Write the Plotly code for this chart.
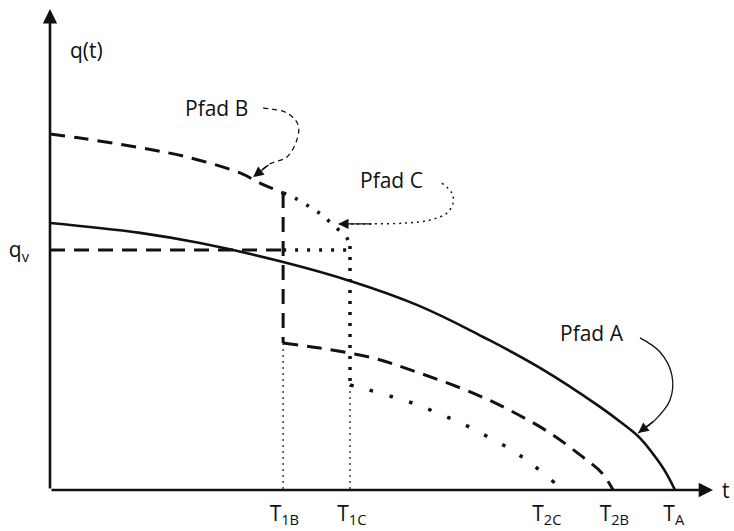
import plotly.graph_objects as go

# ---- data (arbitrary units: t in time units, q in rate units) ----
T1B, T1C, T2C, T2B, TA = 3.73, 4.80, 8.10, 9.01, 10.0
q_v = 8.0

tick_vals = [3.75, 4.83, 7.95, 9.03, 9.98]
tick_text = ["T<sub>1B</sub>", "T<sub>1C</sub>", "T<sub>2C</sub>", "T<sub>2B</sub>", "T<sub>A</sub>"]

# Pfad A (solid)
a_t = [0.0, 1.44, 2.40, 3.73, 4.80, 5.87, 6.93, 7.84, 8.80, 9.15, 9.44, 9.66, 9.84, 10.0]
a_q = [8.90, 8.57, 8.23, 7.60, 6.97, 6.17, 5.10, 4.07, 2.77, 2.23, 1.73, 1.17, 0.63, 0.0]

# Pfad B (dashed): upper part until T1B, then lower part from T1B to T2B
b1_t = [0.0, 0.48, 1.39, 2.19, 3.04, 3.36, 3.73]
b1_q = [11.87, 11.73, 11.43, 11.10, 10.57, 10.23, 9.90]
b2_t = [3.73, 4.32, 5.17, 5.87, 6.77, 7.41, 8.00, 8.48, 8.83, 9.01]
b2_q = [4.90, 4.73, 4.40, 3.93, 3.23, 2.60, 1.90, 1.17, 0.57, 0.0]

# Pfad C (dotted): continues B until T1C, then lower part to T2C
c1_t = [3.73, 3.92, 4.16, 4.35, 4.53, 4.75, 4.80]
c1_q = [9.90, 9.73, 9.43, 9.17, 8.83, 8.40, 8.13]
c2_t = [4.80, 5.04, 5.44, 5.84, 6.24, 6.64, 7.01, 7.39, 7.73, 8.08]
c2_q = [3.50, 3.37, 3.13, 2.87, 2.53, 2.17, 1.77, 1.33, 0.83, 0.23]

# leader curves for labels
lb_t = [3.41, 3.79, 3.97, 3.95, 3.79, 3.52, 3.25]
lb_q = [12.73, 12.57, 12.17, 11.67, 11.10, 10.87, 10.43]
lc_t = [6.27, 6.43, 6.45, 6.35, 6.08, 5.71, 5.17, 4.61]
lc_q = [10.23, 9.90, 9.57, 9.23, 9.00, 8.90, 8.87, 8.87]
la_t = [9.44, 9.76, 9.95, 9.92, 9.68, 9.41]
la_q = [5.07, 4.60, 3.83, 3.00, 2.33, 1.90]

labels = ["Pfad A", "Pfad B", "Pfad C"]
label_t = [8.67, 2.67, 5.47]
label_q = [5.23, 12.73, 10.33]

X_MAX, Y_MAX = 10.608, 16.03

INK = "#111111"
FONT = "Open Sans"
FS = 21

fig = go.Figure()

def line(t, q, dash="solid", width=2.6, shape="spline", smoothing=1.0):
    fig.add_trace(go.Scatter(x=t, y=q, mode="lines",
                             line=dict(color=INK, width=width, dash=dash, shape=shape,
                                       smoothing=smoothing if shape == "spline" else None),
                             hoverinfo="skip", showlegend=False))

# Pfad A
line(a_t, a_q, "solid", 2.6, smoothing=1.2)
# Pfad B
line(b1_t, b1_q, "15px,9px", 3)
line([T1B, T1B], [b1_q[-1], b2_q[0]], "15px,9px", 3, "linear")
line(b2_t, b2_q, "15px,9px", 3)
# Pfad C
line(c1_t, c1_q, "3px,10px", 3.5)
line([T1C, T1C], [c1_q[-1], c2_q[0]], "3px,8px", 3.5, "linear")
line(c2_t, c2_q, "3.5px,17px", 3.5)
# q_v reference
line([0, T1B], [q_v, q_v], "15px,9px", 3, "linear")
line([T1B, T1C], [q_v, q_v], "3px,9px", 3.5, "linear")
# thin verticals down to axis
line([T1B, T1B], [b2_q[0], 0], "2px,4px", 1.2, "linear")
line([T1C, T1C], [c2_q[0], 0], "2px,4px", 1.2, "linear")
# leaders
line(lb_t, lb_q, "5px,4px", 1.3)
line(lc_t, lc_q, "2px,4px", 1.5)
line(la_t, la_q, "solid", 1.3)

annotations = []
# axes as arrows
annotations.append(dict(x=X_MAX, y=0, ax=0, ay=0, xref="x", yref="y", axref="x", ayref="y",
                        text="", showarrow=True, arrowhead=2, arrowsize=1.1, arrowwidth=2.6,
                        arrowcolor=INK))
annotations.append(dict(x=0, y=Y_MAX, ax=0, ay=0, xref="x", yref="y", axref="x", ayref="y",
                        text="", showarrow=True, arrowhead=2, arrowsize=1.1, arrowwidth=2.6,
                        arrowcolor=INK))
# leader arrowheads
for t, q in [(lb_t, lb_q), (lc_t, lc_q), (la_t, la_q)]:
    annotations.append(dict(x=t[-1], y=q[-1], ax=t[-2], ay=q[-2], xref="x", yref="y",
                            axref="x", ayref="y", text="", showarrow=True, arrowhead=2,
                            arrowsize=1.6, arrowwidth=1.3, arrowcolor=INK, standoff=0))
# labels
for s, t, q in zip(labels, label_t, label_q):
    annotations.append(dict(x=t, y=q, xref="x", yref="y", text=s, showarrow=False,
                            font=dict(family=FONT, size=FS, color=INK)))
annotations.append(dict(x=0.29, y=14.67, xref="x", yref="y", text="q(t)", showarrow=False,
                        xanchor="left", font=dict(family=FONT, size=FS, color=INK)))
annotations.append(dict(x=10.72, y=0, xref="x", yref="y", text="t", showarrow=False,
                        xanchor="left", font=dict(family=FONT, size=FS, color=INK)))

fig.update_layout(
    width=734, height=531,
    margin=dict(l=50, r=0, t=0, b=41),
    paper_bgcolor="white", plot_bgcolor="white",
    showlegend=False,
    annotations=annotations,
    xaxis=dict(range=[0, 10.944], showgrid=False, zeroline=False, showline=False,
               tickmode="array", tickvals=tick_vals, ticktext=tick_text, ticks="",
               ticklabelstandoff=9,
               tickfont=dict(family=FONT, size=FS, color=INK), fixedrange=True),
    yaxis=dict(range=[0, 16.333], showgrid=False, zeroline=False, showline=False,
               tickmode="array", tickvals=[q_v], ticktext=["q<sub>v</sub>"], ticks="",
               ticklabelstandoff=20,
               tickfont=dict(family=FONT, size=FS, color=INK), fixedrange=True),
)

fig.write_html("out.html", config={"displayModeBar": False},
               post_script="document.body.style.margin='0';")
